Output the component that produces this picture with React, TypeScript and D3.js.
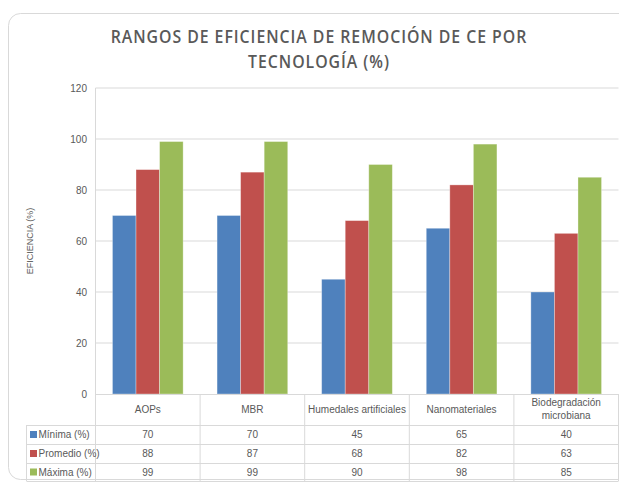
import React from "react";
import * as d3 from "d3";

const categories = ["AOPs", "MBR", "Humedales artificiales", "Nanomateriales", "Biodegradación microbiana"];
const seriesNames = ["Mínima (%)", "Promedio (%)", "Máxima (%)"];
const minima = [70, 70, 45, 65, 40];
const promedio = [88, 87, 68, 82, 63];
const maxima = [99, 99, 90, 98, 85];
const colors = ["#4f81bd", "#c0504d", "#9bbb59"];
const yTicks = [0, 20, 40, 60, 80, 100, 120];

const W = 619, H = 482;
const left = 95.5, right = 618.5, top = 88, bottom = 394;
const tableLeft = 26.5;
const rowLines = [394, 425, 444, 463, 481];

const txt = "#595959";
const grid = "#d9d9d9";
const narrow = "'Liberation Sans Narrow', 'Liberation Sans', Arial, sans-serif";

export default function App() {
  const series = [minima, promedio, maxima];
  const x = d3.scaleBand<string>().domain(categories).range([left, right]).paddingInner(0).paddingOuter(0);
  const x1 = d3.scaleBand<number>().domain([0, 1, 2]).range([0, x.bandwidth()]).paddingInner(0).paddingOuter(0.72);
  const y = d3.scaleLinear().domain([0, 120]).range([bottom, top]);

  const colEdges = [...categories.map((c) => x(c) as number), right];

  return (
    <svg width={W} height={H} style={{ position: "absolute", left: 0, top: 0 }}>
      <rect x={0} y={0} width={W} height={H} fill="#fff" />
      <rect x={8.5} y={13.5} width={640} height={466} rx={12} fill="#fff" stroke="#d9d9d9" />
      <g fill={txt} fontFamily="'Open Sans', sans-serif" fontWeight={600} fontSize={18} letterSpacing={1.1} textAnchor="middle">
        <text transform="translate(319,43) scale(0.88,1)">RANGOS DE EFICIENCIA DE REMOCIÓN DE CE POR</text>
        <text transform="translate(319,68) scale(0.88,1)">TECNOLOGÍA (%)</text>
      </g>
      <text transform={`translate(33,${(top + bottom) / 2}) rotate(-90)`} textAnchor="middle" fill={txt} fontFamily={narrow} fontSize={9}>
        EFICIENCIA (%)
      </text>
      {yTicks.map((t) => (
        <g key={t}>
          {t > 0 && <line x1={left} x2={right} y1={y(t)} y2={y(t)} stroke={grid} />}
          <text x={87} y={y(t) + 3.5} textAnchor="end" fill={txt} fontFamily={narrow} fontSize={10}>{t}</text>
        </g>
      ))}
      {categories.map((c, i) => (
        <g key={c}>
          {series.map((s, j) => (
            <rect key={j} x={(x(c) as number) + (x1(j) as number)} y={y(s[i])} width={x1.bandwidth()} height={bottom - y(s[i])}
              fill={colors[j]} stroke="#ffffff" strokeOpacity={0.4} strokeWidth={0.8} />
          ))}
        </g>
      ))}
      {/* data table */}
      <line x1={left} x2={left} y1={top} y2={rowLines[4]} stroke={grid} />
      {rowLines.map((ry, i) => (
        <line key={i} x1={i === 0 ? left : tableLeft} x2={right} y1={ry + 0.5} y2={ry + 0.5} stroke={grid} />
      ))}
      <line x1={tableLeft} x2={tableLeft} y1={rowLines[1]} y2={rowLines[4]} stroke={grid} />
      {colEdges.map((cx, i) => (
        <line key={i} x1={cx} x2={cx} y1={bottom} y2={rowLines[4]} stroke={grid} />
      ))}
      {categories.map((c) => {
        const cx = (x(c) as number) + x.bandwidth() / 2;
        const parts = c === "Biodegradación microbiana" ? ["Biodegradación", "microbiana"] : [c];
        return (
          <text key={c} textAnchor="middle" fill={txt} fontFamily={narrow} fontSize={10}>
            {parts.length === 1 ? (
              <tspan x={cx} y={413}>{c}</tspan>
            ) : (
              parts.map((p, k) => <tspan key={k} x={cx} y={406 + k * 13}>{p}</tspan>)
            )}
          </text>
        );
      })}
      {seriesNames.map((n, j) => {
        const cy = (rowLines[j + 1] + rowLines[j + 2]) / 2;
        return (
          <g key={n}>
            <rect x={30} y={cy - 3.5} width={7} height={7} fill={colors[j]} />
            <text x={38.5} y={cy + 3.5} fill={txt} fontFamily={narrow} fontSize={10}>{n}</text>
            {categories.map((c, i) => (
              <text key={c} x={(x(c) as number) + x.bandwidth() / 2} y={cy + 3.5} textAnchor="middle" fill={txt} fontFamily={narrow} fontSize={10}>
                {series[j][i]}
              </text>
            ))}
          </g>
        );
      })}
    </svg>
  );
}
